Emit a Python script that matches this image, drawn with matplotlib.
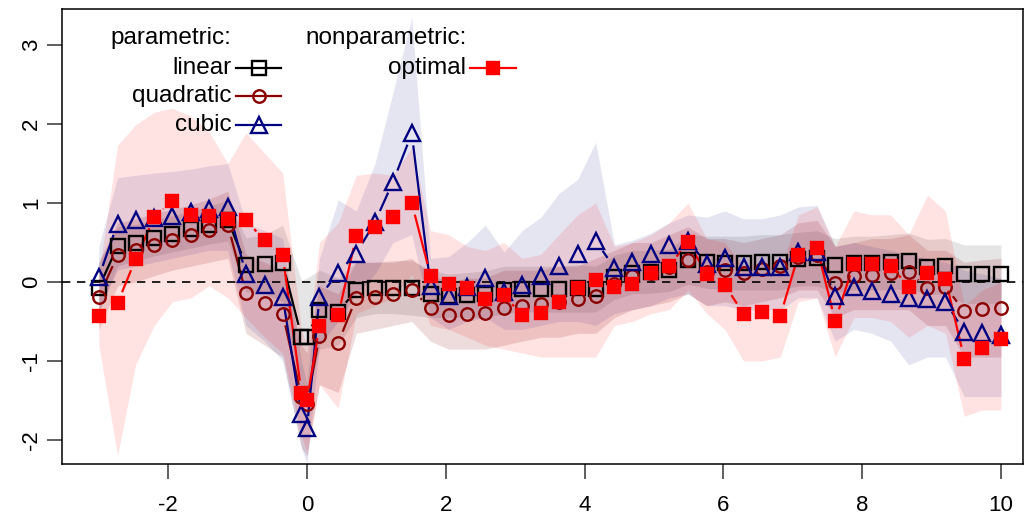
import numpy as np
import matplotlib
matplotlib.use("Agg")
import matplotlib.pyplot as plt
from matplotlib.collections import LineCollection

plt.rcParams['font.family'] = ['Liberation Sans', 'DejaVu Sans']

# grid of evaluation points (plus the cutoff at 0)
x = [-3.00, -2.73, -2.47, -2.20, -1.94, -1.67, -1.41, -1.14, -0.88, -0.61, -0.35, -0.08, 0.00,
     0.18, 0.45, 0.71, 0.98, 1.24, 1.51, 1.78, 2.04, 2.31, 2.57, 2.84, 3.10, 3.37, 3.63, 3.90,
     4.16, 4.43, 4.69, 4.96, 5.22, 5.49, 5.76, 6.02, 6.29, 6.55, 6.82, 7.08, 7.35, 7.61, 7.88,
     8.14, 8.41, 8.67, 8.94, 9.20, 9.47, 9.73, 10.00]

# parametric: linear
lin = [-0.07, 0.45, 0.50, 0.56, 0.61, 0.67, 0.72, 0.78, 0.22, 0.23, 0.24, -0.69, -0.70,
       -0.35, -0.38, -0.10, -0.08, -0.07, -0.08, -0.15, -0.18, -0.16, -0.15, -0.10, -0.09, -0.09,
       -0.09, -0.08, -0.09, 0.06, 0.12, 0.13, 0.15, 0.28, 0.25, 0.24, 0.24, 0.25, 0.25, 0.29,
       0.30, 0.21, 0.24, 0.24, 0.25, 0.27, 0.19, 0.20, 0.10, 0.10, 0.10]
lin_lo = [-0.40, 0.20, 0.27, 0.33, 0.38, 0.43, 0.48, 0.52, -0.12, -0.15, -0.25, -1.40, -1.45,
          -0.85, -0.80, -0.45, -0.40, -0.40, -0.42, -0.45, -0.45, -0.45, -0.45, -0.40, -0.38, -0.38,
          -0.38, -0.38, -0.38, -0.22, -0.15, -0.14, -0.12, -0.03, -0.08, -0.10, -0.10, -0.10, -0.10,
          -0.05, -0.05, -0.13, -0.10, -0.10, -0.10, -0.08, -0.16, -0.15, -0.27, -0.27, -0.27]
lin_hi = [0.25, 0.70, 0.73, 0.79, 0.84, 0.90, 0.96, 1.04, 0.56, 0.60, 0.72, 0.02, 0.05,
          0.15, 0.05, 0.25, 0.25, 0.27, 0.27, 0.15, 0.10, 0.12, 0.14, 0.20, 0.20, 0.20,
          0.20, 0.22, 0.20, 0.34, 0.40, 0.40, 0.42, 0.60, 0.58, 0.58, 0.58, 0.60, 0.60,
          0.63, 0.65, 0.55, 0.58, 0.58, 0.60, 0.62, 0.54, 0.55, 0.47, 0.47, 0.47]

# parametric: quadratic
quad = [-0.19, 0.34, 0.40, 0.47, 0.53, 0.59, 0.66, 0.72, -0.14, -0.27, -0.40, -1.45, -1.54,
        -0.68, -0.77, -0.20, -0.19, -0.15, -0.10, -0.33, -0.42, -0.40, -0.39, -0.33, -0.31, -0.28,
        -0.25, -0.22, -0.18, -0.02, 0.07, 0.11, 0.19, 0.28, 0.13, 0.15, 0.11, 0.16, 0.20, 0.32,
        0.34, -0.01, 0.08, 0.09, 0.11, 0.13, -0.08, -0.06, -0.37, -0.34, -0.33]
quad_lo = [-0.60, -0.05, 0.00, 0.08, 0.15, 0.20, 0.25, 0.30, -0.65, -0.80, -0.95, -2.10, -2.20,
           -1.30, -1.40, -0.65, -0.60, -0.55, -0.50, -0.75, -0.85, -0.85, -0.85, -0.80, -0.75, -0.70,
           -0.70, -0.65, -0.65, -0.45, -0.35, -0.30, -0.25, -0.15, -0.30, -0.25, -0.30, -0.25, -0.20,
           -0.10, -0.10, -0.45, -0.35, -0.35, -0.35, -0.35, -0.55, -0.55, -0.95, -0.95, -0.95]
quad_hi = [0.25, 0.75, 0.80, 0.87, 0.92, 0.98, 1.05, 1.15, 0.35, 0.25, 0.15, -0.80, -0.90,
           -0.05, -0.15, 0.25, 0.25, 0.25, 0.30, 0.10, 0.00, 0.05, 0.05, 0.15, 0.15, 0.15,
           0.20, 0.20, 0.30, 0.40, 0.50, 0.50, 0.60, 0.70, 0.55, 0.55, 0.50, 0.55, 0.60,
           0.75, 0.78, 0.45, 0.50, 0.55, 0.55, 0.60, 0.40, 0.40, 0.25, 0.28, 0.30]

# parametric: cubic
cub = [0.06, 0.74, 0.78, 0.81, 0.84, 0.88, 0.92, 0.95, 0.10, -0.04, -0.19, -1.67, -1.85,
       -0.19, 0.12, 0.36, 0.76, 1.27, 1.88, -0.05, -0.18, -0.06, 0.05, -0.13, -0.04, 0.08,
       0.20, 0.35, 0.52, 0.18, 0.25, 0.36, 0.47, 0.52, 0.23, 0.30, 0.19, 0.19, 0.19, 0.38,
       0.38, -0.18, -0.06, -0.11, -0.15, -0.20, -0.22, -0.25, -0.63, -0.64, -0.67]
cub_lo = [-0.35, 0.15, 0.20, 0.25, 0.30, 0.35, 0.40, 0.40, -0.55, -0.75, -1.00, -2.10, -2.30,
          -0.80, -0.50, -0.15, 0.10, 0.50, 0.60, -0.45, -0.60, -0.50, -0.45, -0.60, -0.60, -0.55,
          -0.50, -0.50, -0.55, -0.40, -0.35, -0.30, -0.20, -0.15, -0.30, -0.30, -0.35, -0.35, -0.35,
          -0.20, -0.20, -0.75, -0.60, -0.65, -0.75, -1.05, -0.95, -0.95, -1.45, -1.45, -1.45]
cub_hi = [0.45, 1.32, 1.35, 1.38, 1.40, 1.43, 1.47, 1.50, 0.75, 0.65, 0.55, -1.00, -1.30,
          0.30, 1.04, 0.90, 1.50, 2.40, 3.35, 0.30, 0.32, 0.50, 0.72, 0.38, 0.65, 0.82,
          1.12, 1.30, 1.77, 0.47, 0.53, 0.62, 0.75, 0.85, 0.82, 0.90, 0.80, 0.80, 0.85,
          0.95, 0.97, 0.45, 0.50, 0.45, 0.40, 0.35, 0.30, 0.25, 0.15, 0.10, 0.05]

# nonparametric: optimal
opt = [-0.43, -0.27, 0.29, 0.82, 1.03, 0.85, 0.84, 0.80, 0.78, 0.53, 0.34, -1.40, -1.50,
       -0.56, -0.42, 0.58, 0.70, 0.82, 1.00, 0.08, -0.02, -0.08, -0.21, -0.17, -0.42, -0.39,
       -0.25, -0.08, 0.03, -0.06, -0.02, 0.11, 0.20, 0.51, 0.10, -0.04, -0.40, -0.38, -0.43,
       0.34, 0.43, -0.49, 0.23, 0.23, 0.20, -0.06, 0.11, 0.04, -0.97, -0.83, -0.72]
opt_lo = [-0.80, -2.20, -1.05, -0.55, -0.25, -0.20, -0.05, -0.20, -0.45, -0.70, -0.90, -1.95, -2.15,
          -1.30, -1.60, -0.40, -0.30, -0.20, 0.10, -0.55, -0.60, -0.70, -0.80, -0.85, -0.90, -0.95,
          -0.95, -0.95, -0.95, -0.55, -0.50, -0.40, -0.35, -0.10, -0.40, -0.60, -1.00, -1.00, -0.95,
          -0.25, -0.20, -0.95, -0.45, -0.45, -0.50, -0.70, -0.55, -0.65, -1.70, -1.62, -1.62]
opt_hi = [0.10, 1.73, 1.99, 2.15, 2.20, 2.10, 1.90, 1.50, 1.89, 1.63, 1.38, -0.60, -0.80,
          0.50, 0.75, 1.35, 1.38, 1.35, 1.70, 0.65, 0.60, 0.45, 0.40, 0.50, 0.30, 0.35,
          0.60, 0.85, 1.00, 0.45, 0.50, 0.60, 0.75, 1.00, 0.55, 0.50, 0.20, 0.25, 0.15,
          0.85, 0.95, 0.45, 0.90, 0.85, 0.85, 0.60, 1.10, 0.90, -0.30, -0.10, 0.00]

xticks = [-2, 0, 2, 4, 6, 8, 10]
yticks = [-2, -1, 0, 1, 2, 3]


def gap_line(ax, xs, ys, color, gap=12.0, lw=1.6):
    # R type="b": segments stop short of the points
    pts = ax.transData.transform(np.column_stack([xs, ys]))
    inv = ax.transData.inverted()
    segs = []
    for p, q in zip(pts[:-1], pts[1:]):
        d = q - p
        n = np.hypot(d[0], d[1])
        if n <= 2 * gap:
            continue
        u = d / n
        segs.append(inv.transform(np.array([p + u * gap, q - u * gap])))
    ax.add_collection(LineCollection(segs, colors=color, linewidths=lw, zorder=3),
                      autolim=False)


fig = plt.figure(figsize=(10.27, 5.21), dpi=100)
ax = fig.add_axes([62 / 1027, 1 - 464 / 521, 961 / 1027, 455 / 521])
ax.set_xlim(-3.53, 10.317)
ax.set_ylim(-2.304, 3.456)

bands = [(lin_lo, lin_hi, 'black', 0.10),
         (quad_lo, quad_hi, '#8B0000', 0.14),
         (cub_lo, cub_hi, '#000080', 0.10),
         (opt_lo, opt_hi, 'red', 0.11)]
for lo, hi, col, a in bands:
    ax.fill_between(x, lo, hi, color=col, alpha=a, lw=0, zorder=1)

ax.axhline(0, color='black', lw=1.2, ls=(0, (5, 4)), zorder=2)

series = [(lin, 'black', 's', 9.5, 'none'),
          (quad, '#8B0000', 'o', 9.0, 'none'),
          (cub, '#000080', '^', 12.0, 'none'),
          (opt, 'red', 's', 8.5, 'red')]
for ys, col, mk, ms, fc in series:
    gap_line(ax, x, ys, col)
    ax.plot(x, ys, ls='none', marker=mk, ms=ms, mfc=fc, mec=col, mew=1.7, zorder=4)

ax.set_xticks(xticks)
ax.set_yticks(yticks)
ax.set_xticklabels([str(v) for v in xticks])
ax.set_yticklabels([str(v) for v in yticks], rotation=90, va='center')
ax.tick_params(axis='both', length=10.5, width=1.1, labelsize=16, color='#333333')
ax.tick_params(axis='x', pad=12)
ax.tick_params(axis='y', pad=4)
for s in ax.spines.values():
    s.set_linewidth(1.1)

# legend, drawn by hand
fs = 17.5
ax.text(0.050, 0.936, 'parametric:', transform=ax.transAxes, fontsize=fs, ha='left', va='center')
ax.text(0.253, 0.936, 'nonparametric:', transform=ax.transAxes, fontsize=fs, ha='left', va='center')
leg = [('linear', 'black', 's', 9.5, 'none', 0.176, 0.870),
       ('quadratic', '#8B0000', 'o', 9.0, 'none', 0.176, 0.809),
       ('cubic', '#000080', '^', 12.0, 'none', 0.176, 0.745),
       ('optimal', 'red', 's', 8.5, 'red', 0.420, 0.870)]
for lab, col, mk, ms, fc, tx, ty in leg:
    ax.text(tx, ty, lab, transform=ax.transAxes, fontsize=fs, ha='right', va='center')
    ax.plot([tx + 0.005, tx + 0.052], [ty, ty], color=col, lw=1.6, transform=ax.transAxes,
            zorder=5)
    ax.plot([tx + 0.0285], [ty], marker=mk, ms=ms, mfc=fc, mec=col, mew=1.7,
            transform=ax.transAxes, zorder=6)

fig.savefig('out.png', dpi=100)
